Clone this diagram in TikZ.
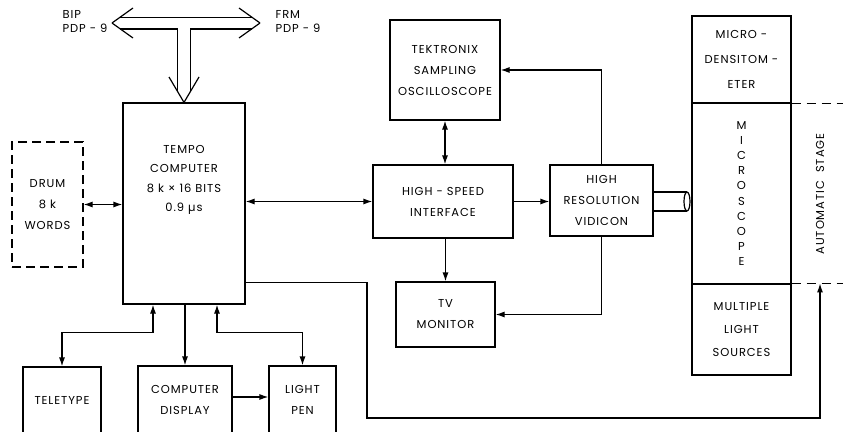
\documentclass[tikz,border=0pt]{standalone}
\usepackage{fontspec}
\setmainfont{Poppins}[LetterSpace=8]
\usetikzlibrary{arrows.meta,calc}

\begin{document}
\begin{tikzpicture}[
  x=1pt, y=-1pt,
  line width=1.2pt,
  >={Latex[length=9pt,width=6pt]},
  blk/.style={draw, inner sep=0pt, align=center,
    font=\fontsize{11.5}{21}\selectfont},
  drumblk/.style={blk, dash pattern=on 9pt off 5pt},
  txt/.style={inner sep=0pt, align=center, font=\fontsize{11.5}{19.5}\selectfont},
  lbl/.style={inner sep=0pt, align=left, font=\fontsize{11.5}{14}\selectfont},
  arr/.style={->},
  dbl/.style={<->},
  stagedash/.style={dash pattern=on 9pt off 6pt}
]
\useasboundingbox (0,0) rectangle (843,431);
\clip (0,0) rectangle (843,431);

\node[lbl, anchor=west] (bip) at (62,21) {BIP\\PDP - 9};
\node[lbl, anchor=west] (frm) at (275,21) {FRM\\PDP - 9};

\node[blk, minimum width=122, minimum height=201] (tempo) at (184,203.5) {};
\node[txt] (tempotxt) at (184,180) {TEMPO\\COMPUTER\\8 k × 16 BITS\\0.9 µs};
\node[drumblk, minimum width=71, minimum height=125] (drum) at (47.5,204.5) {DRUM\\8 k\\WORDS};

\node[blk, minimum width=110, minimum height=100] (tek) at (445,70) {TEKTRONIX\\SAMPLING\\OSCILLOSCOPE};
\node[blk, minimum width=140, minimum height=73] (hsi) at (443,201.5) {HIGH - SPEED\\INTERFACE};
\node[blk, minimum width=103, minimum height=71] (vid) at (601.5,200.5) {HIGH\\RESOLUTION\\VIDICON};
\node[blk, minimum width=99, minimum height=65] (tv) at (445.5,314.5) {TV\\MONITOR};

\node[blk, minimum width=99, minimum height=87,
  font=\fontsize{11.5}{25}\selectfont] (dens) at (741.5,59.5) {MICRO -\\DENSITOM -\\ETER};
\node[blk, minimum width=99, minimum height=181,
  font=\fontsize{11.5}{15.2}\selectfont] (micro) at (741.5,193.5) {M\\I\\C\\R\\O\\S\\C\\O\\P\\E};
\node[blk, minimum width=99, minimum height=91,
  font=\fontsize{11.5}{23}\selectfont] (light) at (741.5,329.5) {MULTIPLE\\LIGHT\\SOURCES};
\node[lbl, rotate=90] (stage) at (820,194) {AUTOMATIC\hspace{8pt}STAGE};
\coordinate (stg) at (stage |- light.north);

\node[blk, minimum width=78, minimum height=66] (tty) at (62,400) {TELETYPE};
\node[blk, minimum width=94, minimum height=67] (disp) at (185,399.5) {COMPUTER\\DISPLAY};
\node[blk, minimum width=67, minimum height=67] (pen) at (302.5,399.5) {LIGHT\\PEN};

\draw (112,23) -- (133,8) (112,23) -- (133,38);
\draw (260,23) -- (239,8) (260,23) -- (239,38);
\draw (119.7,17.5) -- (252.3,17.5);
\draw (120.4,29) -- (177.5,29) -- (177.5,91.7);
\draw (190.5,91.7) -- (190.5,29) -- (251.6,29);
\draw (169,77) -- (tempo.north) -- (199,77);

\draw[dbl] (drum.east) -- (drum.east -| tempo.west);
\draw[dbl] (tempo.east |- hsi.west) -- (hsi.west);
\draw[dbl] (tek.south) -- (tek.south |- hsi.north);
\draw[arr] (hsi.east) -- (hsi.east -| vid.west);
\draw[arr] (vid.north) |- (tek.east);
\draw[arr] (vid.south) |- (tv.east);
\draw[arr] (tv.north |- hsi.south) -- (tv.north);

\draw (vid.east |- 0,192) -- (687,192) (vid.east |- 0,211) -- (687,211);
\draw (687,201.5) ellipse [x radius=3, y radius=9.5];

\draw[stagedash] (dens.south east) -- ++(52,0);
\draw[stagedash] (light.north east) -- ++(52,0);
\draw[arr] ([yshift=22pt]tempo.south east) -| (367,418) -| (stg);

\draw[dbl] ([xshift=-31pt]tempo.south) -- ++(0,28) -| (tty.north);
\draw[arr] (disp.north |- tempo.south) -- (disp.north);
\draw[dbl] ([xshift=33pt]tempo.south) -- ++(0,28) -| (pen.north);
\draw[arr] ([yshift=2.5pt]disp.east) -- ([yshift=2.5pt]disp.east -| pen.west);

\end{tikzpicture}
\end{document}
